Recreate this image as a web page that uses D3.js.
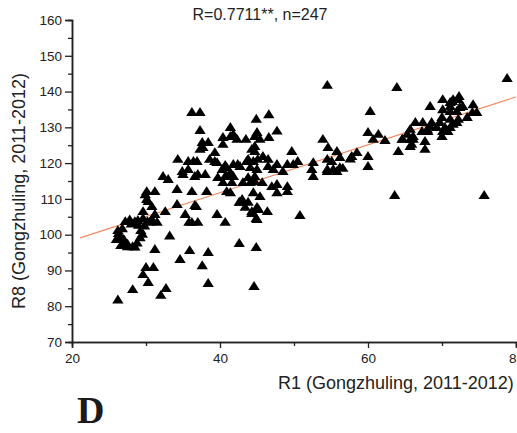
<!DOCTYPE html>
<html>
<head>
<meta charset="utf-8">
<script src="https://cdn.jsdelivr.net/npm/d3@7"></script>
<style>
  body { margin: 0; background: #fff; }
  svg { display: block; }
  text { font-family: "Liberation Sans", Arial, sans-serif; fill: #222; }
</style>
</head>
<body>
<svg id="chart"></svg>
<script>
// R1 vs R8 (Gongzhuling, 2011-2012), grouped by area
const lowScatter = [
  [26.2,81.6],[28.2,84.5],[29.6,88.7],[30.0,90.7],[31.0,90.7],[30.3,86.5],[32.0,82.9],
  [32.7,84.8],[31.2,95.7],[33.2,99.5],[34.6,92.9],[35.9,95.4],[37.6,91.2],[38.4,94.9],
  [38.4,86.2],[42.6,97.4],[44.9,96.3],[44.6,85.4]
];
const ringCluster = [
  [26.5,99],[26.8,101.5],[27.2,103.5],[27.8,104],[28.5,103.5],[29,102.5],[29.3,101],
  [29.2,99],[28.8,97.5],[28.2,96.5],[27.5,96.5],[26.9,97.5],[26.3,100.2],[27.0,98.5],
  [28.0,102.8],[29.5,100],[26.0,98.5],[27.5,97.2],[28.9,103.8],[29.8,102.3],[30.2,103.5],
  [26.6,96.8],[28.5,96.4],[29.6,104.4],[26.2,101]
];
const band100to112 = [
  [30.1,111.9],[31.2,111.9],[29.9,111.0],[30.3,109.1],[30.1,109.7],[29.6,106.3],[30.8,107.7],
  [31.2,105.5],[30.8,104.1],[31.5,103.3],[30.5,103.3],[32.6,106.3],[34.2,108.3],[34.2,112.5],
  [35.3,105.5],[35.8,103.3],[37.0,103.3],[36.8,107.7],[36.2,111.9],[38.2,111.9],[36.6,108.0],
  [39.6,105.5],[40.7,103.3],[42.6,108.9],[43.4,107.5],[44.3,105.8],[44.9,104.4],[45.2,106.9],
  [41.4,111.6],[42.7,108.9],[44.3,106.3],[45.0,107.5],[45.0,104.1],[46.4,106.3],[44.5,111.6],
  [45.4,110.5],[47.7,111.6],[49.1,111.9],[43.0,109.7],[43.8,108.9],[36.2,103.3],[50.8,105.2]
];
const band112to122 = [
  [32.3,116.1],[33.0,115.3],[34.3,120.9],[35.7,120.3],[35.7,118.1],[34.9,117.5],[35.0,116.7],
  [36.9,120.3],[37.0,116.7],[36.6,116.1],[38.6,120.9],[39.6,120.0],[38.0,116.7],[40.7,119.2],
  [40.9,118.6],[41.8,119.5],[42.4,119.5],[42.7,118.9],[39.7,115.8],[41.4,117.2],[41.1,116.1],
  [43.6,120.3],[44.5,120.3],[45.1,120.9],[44.7,116.1],[44.1,114.4],[41.6,114.4],[40.4,114.4],
  [40.9,111.9],[36.4,120.3],[39.3,120.3],[40.3,118.1],[43.8,120.9],[44.1,118.6],[45.0,118.1],
  [45.8,121.7],[46.5,120.9],[47.7,119.5],[47.2,118.1],[49.1,119.5],[49.9,119.5],[50.5,120.3],
  [40.7,116.1],[41.8,116.1],[43.1,114.4],[43.8,115.8],[44.7,114.7],[45.7,114.4],[47.0,113.3],
  [47.7,113.9],[49.1,113.3],[46.5,118.9],[48.5,117.5]
];
const band122to134 = [
  [36.2,134.0],[37.3,134.0],[37.3,129.0],[37.6,125.6],[37.7,124.2],[38.4,125.6],[39.3,122.8],
  [40.4,125.1],[41.4,129.8],[41.4,127.3],[41.8,127.9],[42.3,126.5],[43.5,126.5],[44.9,132.1],
  [45.0,128.4],[44.7,127.3],[40.4,127.0],[46.6,133.4],[45.4,126.5],[44.7,124.5],[46.6,127.0],
  [47.7,128.8],[44.3,123.7],[44.7,123.1],[49.7,123.1],[37.3,123.7]
];
const middle = [
  [54.5,141.6],[53.9,126.5],[54.6,124.2],[55.8,123.1],[56.2,121.4],[52.6,120.0],[52.4,118.1],
  [54.5,120.9],[55.1,120.3],[54.5,118.1],[55.3,118.1],[56.2,118.6],[56.6,118.4],[52.6,116.1],
  [54.5,117.5],[55.8,117.5],[57.8,121.7],[58.5,122.8],[57.6,121.0],
  [63.9,141.0],[60.3,134.3],[60.0,128.4],[61.4,127.9],[62.3,126.2],[60.7,126.5],[60.0,121.7],
  [60.0,118.9],[64.1,123.1],[64.7,126.5],[65.3,127.9],[65.7,129.3],[63.6,110.8]
];
const upperRight = [
  [68.4,135.7],[70.1,137.6],[71.1,136.8],[72.3,138.5],[71.5,137.6],[72.2,137.6],[71.4,137.1],
  [70.1,134.8],[71.1,134.3],[72.0,134.3],[72.8,135.7],[74.2,136.2],[74.7,134.0],[71.1,135.7],
  [72.4,135.4],[74.1,134.0],[70.0,132.6],[71.1,132.1],[72.2,132.1],[73.4,132.6],[72.0,131.2],
  [66.4,131.2],[67.4,131.2],[68.6,131.2],[69.7,131.2],[68.0,129.3],[69.3,129.8],[70.4,129.8],
  [71.5,130.7],[68.4,130.1],[71.1,129.8],[66.1,127.3],[67.3,128.7],[68.1,128.7],[70.1,128.7],
  [70.8,128.7],[70.0,127.3],[64.6,126.5],[65.7,126.5],[67.7,125.9],[67.7,123.7],[66.1,126.5],
  [65.9,125.1],[65.7,124.5],[75.7,110.8],[78.8,143.5]
];
const points = [].concat(lowScatter, ringCluster, band100to112, band112to122, band122to134, middle, upperRight);

const fitX = [21.1, 80];
const fitY = [99.1, 138.5];

const xMajor = [20, 40, 60, 80];
const xMinor = [30, 50, 70];
const yMajor = [70, 80, 90, 100, 110, 120, 130, 140, 150, 160];
const yMinor = [75, 85, 95, 105, 115, 125, 135, 145, 155];

const titleText = "R=0.7711**, n=247";
const xTitle = "R1 (Gongzhuling, 2011-2012)";
const yTitle = "R8 (Gongzhuling, 2011-2012)";

const width = 517, height = 433;
const margin = {left: 72, right: 516, top: 20, bottom: 342};

const svg = d3.select("#chart").attr("width", width).attr("height", height);

const x = d3.scaleLinear().domain([20, 80]).range([margin.left, margin.right]);
const y = d3.scaleLinear().domain([70, 160]).range([margin.bottom, margin.top]);

// fit line
svg.append("line")
  .attr("x1", x(fitX[0])).attr("y1", y(fitY[0]))
  .attr("x2", x(fitX[1])).attr("y2", y(fitY[1]))
  .attr("stroke", "#f2875f").attr("stroke-width", 1.1);

// points
const tri = d3.symbol(d3.symbolTriangle, 46);
svg.append("g").selectAll("path")
  .data(points)
  .join("path")
  .attr("d", tri)
  .attr("transform", d => `translate(${x(d[0])},${y(d[1])}) scale(1.1,1)`)
  .attr("fill", "#000");

function styleAxis(g) {
  g.select(".domain").attr("stroke", "#222").attr("stroke-width", 1.5);
  g.selectAll(".tick line").attr("stroke", "#222").attr("stroke-width", 1.3);
  g.selectAll("text").style("font-size", "13.5px").style("font-family", "Liberation Sans, Arial, sans-serif").attr("fill", "#222");
}

// minor ticks first
svg.append("g").attr("transform", `translate(0,${margin.bottom})`)
  .call(d3.axisBottom(x).tickValues(xMinor).tickSize(4).tickFormat(""))
  .call(styleAxis);
svg.append("g").attr("transform", `translate(${margin.left},0)`)
  .call(d3.axisLeft(y).tickValues(yMinor).tickSize(4).tickFormat(""))
  .call(styleAxis);

svg.append("g").attr("transform", `translate(0,${margin.bottom})`)
  .call(d3.axisBottom(x).tickValues(xMajor).tickSize(6).tickPadding(5).tickFormat(d3.format("d")))
  .call(styleAxis);
svg.append("g").attr("transform", `translate(${margin.left},0)`)
  .call(d3.axisLeft(y).tickValues(yMajor).tickSize(7).tickPadding(3).tickFormat(d3.format("d")))
  .call(styleAxis);

// titles
svg.append("text")
  .attr("x", 260).attr("y", 20)
  .attr("text-anchor", "middle")
  .style("font-size", "16px")
  .text(titleText);

svg.append("text")
  .attr("x", 278).attr("y", 389)
  .style("font-size", "18px")
  .text(xTitle);

svg.append("text")
  .attr("transform", "translate(25,191) rotate(-90)")
  .attr("text-anchor", "middle")
  .style("font-size", "18px")
  .text(yTitle);

svg.append("text")
  .attr("x", 77).attr("y", 423)
  .style("font-family", "Liberation Serif, 'Times New Roman', serif")
  .style("font-weight", "bold")
  .style("font-size", "38px")
  .style("fill", "#1a1a1a")
  .text("D");
</script>
</body>
</html>
